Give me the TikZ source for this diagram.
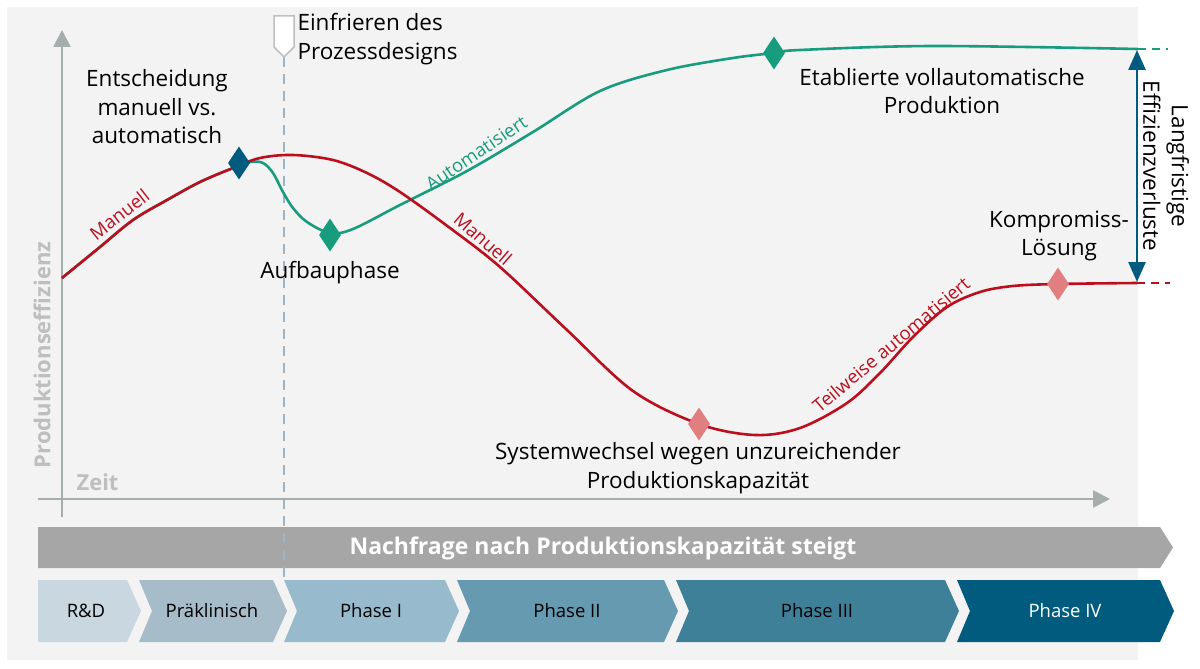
\documentclass[tikz,border=0pt]{standalone}
\usepackage{fontspec}
\setmainfont{Open Sans}
\usetikzlibrary{shapes.geometric,arrows.meta}
\definecolor{bggray}{HTML}{F3F3F3}
\definecolor{axisgray}{HTML}{A5ADAD}
\definecolor{lblgray}{HTML}{BEBEBE}
\definecolor{manred}{HTML}{BB0F1E}
\definecolor{autgreen}{HTML}{179C7D}
\definecolor{darkblue}{HTML}{005B7F}
\definecolor{pinkdia}{HTML}{E07E80}
\definecolor{freeze}{HTML}{9CB4C6}
\definecolor{bargray}{HTML}{A6A6A6}
\definecolor{cRD}{HTML}{C8D7E0}
\definecolor{cPre}{HTML}{A6BCC8}
\definecolor{cPhI}{HTML}{97BBCC}
\definecolor{cPhII}{HTML}{659AB1}
\definecolor{cPhIII}{HTML}{3F8099}
\definecolor{cPhIV}{HTML}{005B7F}

\begin{document}
\begin{tikzpicture}[x=1pt,y=-1pt,
        lbl/.style={align=center,font=\fontsize{22.5}{28.5}\selectfont},
        curvelbl/.style={font=\fontsize{18.5}{20}\selectfont,anchor=south,inner sep=5pt},
        phaselbl/.style={font=\fontsize{18.5}{22}\selectfont},
        dia/.style={diamond,inner sep=0pt,minimum width=22pt,minimum height=33pt},
        curve/.style={line width=2.6pt,line join=round}]
        \useasboundingbox (0,0) rectangle (1200,669);
        % background
        \fill[bggray] (7,7) rectangle (1138,660);
        % axes
        \draw[axisgray,line width=2.6pt,-{Triangle[width=17pt,length=17pt]}] (62,517) -- (62,30);
        \draw[axisgray,line width=2.6pt,-{Triangle[width=17pt,length=17pt]}] (38,499) -- (1110,499);
        \node[rotate=90,lblgray,font=\bfseries\fontsize{22}{24}\selectfont] (ylab) at (42,355) {Produktionseffizienz};
        \node[lblgray,font=\bfseries\fontsize{22}{24}\selectfont,anchor=west] (xlab) at (73,482) {Zeit};
        % demand bar
        \fill[bargray] (38,527) -- (1160,527) -- (1173,547.5) -- (1160,568) -- (38,568) -- cycle;
        \node[white,font=\bfseries\fontsize{23}{26}\selectfont] (demand) at (603,548) {Nachfrage nach Produktionskapazität steigt};
        % phases
        \fill[cRD] (38,580) -- (127,580) -- (141,611) -- (127,642) -- (38,642) -- cycle;
        \fill[cPre] (139,580) -- (273,580) -- (287,611) -- (273,642) -- (139,642) -- (152,611) -- cycle;
        \fill[cPhI] (284,580) -- (445,580) -- (459,611) -- (445,642) -- (284,642) -- (297,611) -- cycle;
        \fill[cPhII] (457,580) -- (664,580) -- (678,611) -- (664,642) -- (457,642) -- (470,611) -- cycle;
        \fill[cPhIII] (676,580) -- (945,580) -- (959,611) -- (945,642) -- (676,642) -- (689,611) -- cycle;
        \fill[cPhIV] (957,580) -- (1160,580) -- (1174,611) -- (1160,642) -- (957,642) -- (970,611) -- cycle;
        \node[phaselbl] (rd) at (86,611) {R\&D};
        \node[phaselbl] (pre) at (212,611) {Präklinisch};
        \node[phaselbl] (ph1) at (371,611) {Phase I};
        \node[phaselbl] (ph2) at (567,611) {Phase II};
        \node[phaselbl] (ph3) at (817,611) {Phase III};
        \node[phaselbl,white] (ph4) at (1065,611) {Phase IV};
        % freeze of process design
        \coordinate (flag) at (284,57);
        \coordinate (ph1top) at (284,580);
        \draw[freeze,line width=2.2pt,dash pattern=on 10pt off 7pt] (flag) -- (ph1top);
        \filldraw[fill=white,draw=lblgray,line width=1.5pt] (274,16) -- (294,16) -- (294,47) -- (flag) -- (274,47) -- cycle;
        \node[lbl,align=left,anchor=north west] (freezelbl) at (294,10) {Einfrieren des\\Prozessdesigns};
        % automated curve
        \draw[autgreen,curve] plot[smooth,tension=0.55] coordinates {(62,278) (100,247) (133,220) (167,200) (200,182) (233,168) (250,162) (263,163) (273,173) (283,192) (293,208) (307,222) (330,233) (353,229) (400,205) (467,171) (533,132) (600,91) (667,70) (733,58) (774,53) (800,50) (933,46) (1138,49)};
        \draw[autgreen,line width=2.6pt,dash pattern=on 8pt off 6pt] (1138,49) -- (1168,49);
        % manual curve
        \draw[manred,curve] plot[smooth,tension=0.55] coordinates {(62,278) (100,247) (133,220) (167,200) (200,182) (233,168) (260,158) (293,155) (333,160) (367,173) (400,192) (450,228) (500,267) (567,330) (633,391) (699,424) (755,435) (800,428) (847,403) (880,373) (913,337) (947,307) (980,292) (1013,286) (1058,284) (1137,283)};
        \draw[manred,line width=2.6pt,dash pattern=on 8pt off 6pt] (1137,283) -- (1170,283);
        % milestones
        \node[dia,fill=darkblue] (decide) at (239,163) {};
        \node[dia,fill=autgreen] (setup) at (330,235) {};
        \node[dia,fill=autgreen] (established) at (774,53) {};
        \node[dia,fill=pinkdia] (switch) at (699,424) {};
        \node[dia,fill=pinkdia] (compromise) at (1058,284) {};
        % curve labels
        \node[curvelbl,manred,rotate=38] (manlbl1) at (127,224) {Manuell};
        \node[curvelbl,autgreen,rotate=34] (autlbl) at (483,163) {Automatisiert};
        \node[curvelbl,manred,rotate=-41] (manlbl2) at (475,248) {Manuell};
        \node[curvelbl,manred,rotate=40] (partlbl) at (899,354) {Teilweise automatisiert};
        % annotations
        \node[lbl] (decidelbl) at (157,107) {Entscheidung\\manuell vs.\\automatisch};
        \node[lbl] (setuplbl) at (330,273) {Aufbauphase};
        \node[lbl] (establbl) at (942,91) {Etablierte vollautomatische\\Produktion};
        \node[lbl] (complbl) at (1059,236) {Kompromiss-\\Lösung};
        \node[lbl] (switchlbl) at (698,468) {Systemwechsel wegen unzureichender\\Produktionskapazität};
        % efficiency loss
        \coordinate (losstop) at (1137,50);
        \coordinate (lossbot) at (1137,282);
        \draw[darkblue,line width=2.6pt,{Triangle[width=17pt,length=20pt]}-{Triangle[width=17pt,length=20pt]}] (losstop) -- (lossbot);
        \node[lbl,rotate=-90] (losslbl) at (1166,166) {Langfristige\\Effizienzverluste};
\end{tikzpicture}
\end{document}
